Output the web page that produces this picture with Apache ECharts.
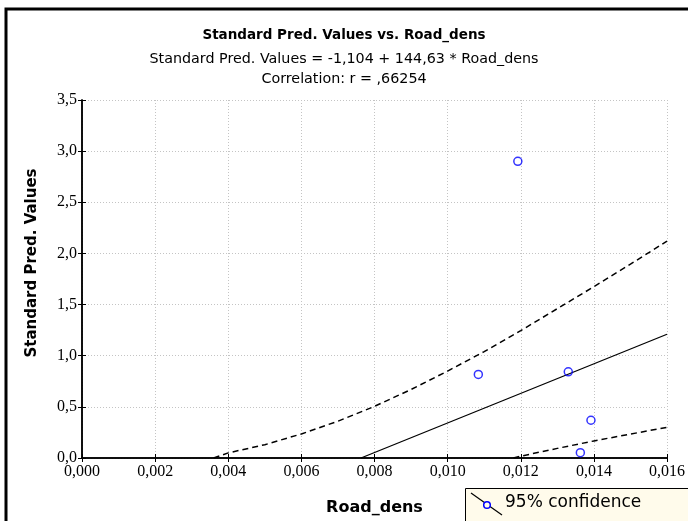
<!DOCTYPE html>
<html>
<head>
<meta charset="utf-8">
<script src="https://cdn.jsdelivr.net/npm/echarts@6/dist/echarts.min.js"></script>
<style>
html,body{margin:0;padding:0;background:#fff;}
#chart{width:688px;height:521px;}
</style>
</head>
<body>
<div id="chart"></div>
<script>
// Observed points (Road_dens, Standard Pred. Values)
const pointsX = [0.01192, 0.01084, 0.01330, 0.01392, 0.01363];
const pointsY = [2.90, 0.817, 0.843, 0.369, 0.052];

// Regression line endpoints
const regX = [0.00763, 0.016];
const regY = [0.0, 1.21];

// Upper 95% confidence band
const upperX = [0.0036, 0.004, 0.005, 0.006, 0.007, 0.008, 0.009, 0.010, 0.011, 0.012, 0.013, 0.014, 0.015, 0.016];
const upperY = [0.0, 0.05, 0.13, 0.235, 0.36, 0.505, 0.67, 0.85, 1.04, 1.245, 1.46, 1.675, 1.895, 2.12];

// Lower 95% confidence band
const lowerX = [0.0118, 0.012, 0.013, 0.014, 0.015, 0.016];
const lowerY = [0.0, 0.018, 0.094, 0.167, 0.234, 0.30];

const xTicks = [0, 0.002, 0.004, 0.006, 0.008, 0.010, 0.012, 0.014, 0.016];
const yTicks = [0, 0.5, 1.0, 1.5, 2.0, 2.5, 3.0, 3.5];

const zip = (xs, ys) => xs.map((x, i) => [x, ys[i]]);

const chart = echarts.init(document.getElementById('chart'));
const sans = 'DejaVu Sans';
const serif = 'Liberation Serif';

const gridLine = {show: true, lineStyle: {color: '#c4c4c4', type: [1, 2], width: 1}};
const axisLineStyle = {show: true, lineStyle: {color: '#000', width: 1.5}};

const option = {
  animation: false,
  backgroundColor: '#fff',
  title: [
    {text: 'Standard Pred. Values vs. Road_dens', left: 'center', top: 23,
     textStyle: {fontFamily: sans, fontWeight: 'bold', fontSize: 13.5, color: '#000'}},
    {text: 'Standard Pred. Values = -1,104 + 144,63 * Road_dens', left: 'center', top: 47,
     textStyle: {fontFamily: sans, fontWeight: 'normal', fontSize: 14.3, color: '#000'}},
    {text: 'Correlation: r = ,66254', left: 'center', top: 67,
     textStyle: {fontFamily: sans, fontWeight: 'normal', fontSize: 14.3, color: '#000'}}
  ],
  grid: {left: 82, right: 21, top: 100, bottom: 61, containLabel: false},
  xAxis: [
    {type: 'value', min: 0, max: 0.016, interval: 0.002, position: 'bottom',
     axisLine: axisLineStyle,
     axisTick: {show: true, inside: true, length: 4, lineStyle: {color: '#000'}},
     splitLine: gridLine,
     axisLabel: {color: '#000', fontFamily: serif, fontSize: 16, margin: 6,
       formatter: v => v.toFixed(3).replace('.', ',')},
     name: 'Road_dens', nameLocation: 'middle', nameGap: 42,
     nameTextStyle: {fontFamily: sans, fontWeight: 'bold', fontSize: 16, color: '#000'}},
    {type: 'value', min: 0, max: 0.016, interval: 0.002, position: 'top',
     axisLine: axisLineStyle,
     axisTick: {show: true, inside: true, length: 4, lineStyle: {color: '#000'}},
     splitLine: {show: false}, axisLabel: {show: false}}
  ],
  yAxis: [
    {type: 'value', min: 0, max: 3.5, interval: 0.5, position: 'left',
     axisLine: axisLineStyle,
     axisTick: {show: true, inside: true, length: 4, lineStyle: {color: '#000'}},
     splitLine: gridLine,
     axisLabel: {color: '#000', fontFamily: serif, fontSize: 16, margin: 5,
       formatter: v => v.toFixed(1).replace('.', ',')}},
    {type: 'value', min: 0, max: 3.5, interval: 0.5, position: 'right',
     axisLine: axisLineStyle,
     axisTick: {show: true, inside: true, length: 4, lineStyle: {color: '#000'}},
     splitLine: {show: false}, axisLabel: {show: false}}
  ],
  series: [
    {type: 'line', data: zip(regX, regY), showSymbol: false, symbol: 'none',
     lineStyle: {color: '#000', width: 1.3}, clip: true, z: 3},
    {type: 'line', data: zip(upperX, upperY), showSymbol: false, symbol: 'none', smooth: false,
     lineStyle: {color: '#000', width: 1.5, type: [6, 4]}, clip: true, z: 3},
    {type: 'line', data: zip(lowerX, lowerY), showSymbol: false, symbol: 'none',
     lineStyle: {color: '#000', width: 1.5, type: [6, 4]}, clip: true, z: 3},
    {type: 'scatter', data: zip(pointsX, pointsY), symbol: 'circle', symbolSize: 8,
     itemStyle: {color: 'rgba(0,0,0,0)', borderColor: '#0000ff', borderWidth: 1.5}, z: 4}
  ],
  graphic: [
    {type: 'rect', shape: {x: 6, y: 9, width: 700, height: 530},
     style: {fill: 'none', stroke: '#000', lineWidth: 3}, z: 10},
    {type: 'text', x: 32, y: 263, rotation: Math.PI / 2,
     style: {text: 'Standard Pred. Values', fontFamily: sans, fontWeight: 'bold', fontSize: 15,
       fill: '#000', align: 'center', verticalAlign: 'middle'}, z: 10},
    {type: 'rect', shape: {x: 465.5, y: 488.5, width: 240, height: 40},
     style: {fill: '#fffbeb', stroke: '#000', lineWidth: 1}, z: 10},
    {type: 'line', shape: {x1: 471, y1: 493, x2: 502, y2: 515},
     style: {stroke: '#000', lineWidth: 1.2}, z: 11},
    {type: 'circle', shape: {cx: 487, cy: 505, r: 3.3},
     style: {fill: '#fffbeb', stroke: '#0000ff', lineWidth: 1.5}, z: 12},
    {type: 'text', x: 505, y: 503,
     style: {text: '95% confidence', fontFamily: sans, fontSize: 17, fill: '#000',
       verticalAlign: 'middle'}, z: 12}
  ]
};
chart.setOption(option);
</script>
</body>
</html>
